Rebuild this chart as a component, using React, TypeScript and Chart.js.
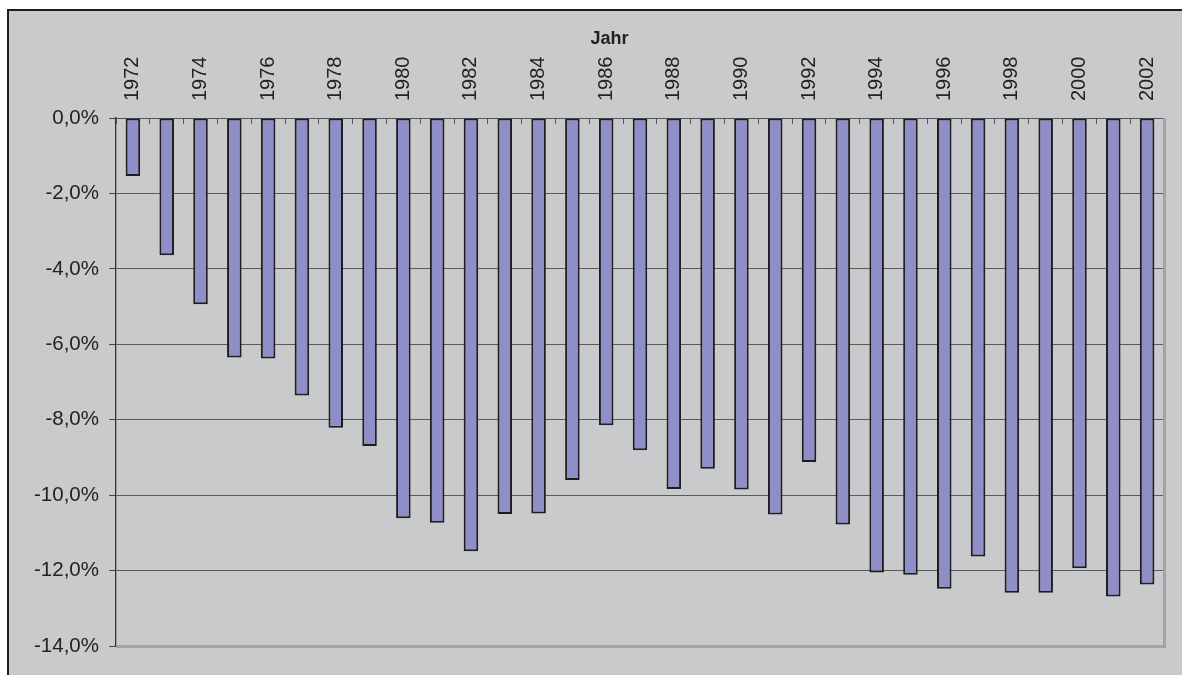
import React, { useEffect, useRef } from "react";
import { Chart, registerables } from "chart.js";

Chart.register(...registerables);

const years: string[] = [
  "1972", "1973", "1974", "1975", "1976", "1977", "1978", "1979", "1980", "1981",
  "1982", "1983", "1984", "1985", "1986", "1987", "1988", "1989", "1990", "1991",
  "1992", "1993", "1994", "1995", "1996", "1997", "1998", "1999", "2000", "2001", "2002",
];

const values: number[] = [
  -1.54, -3.64, -4.94, -6.35, -6.38, -7.36, -8.21, -8.70, -10.61, -10.73,
  -11.49, -10.50, -10.49, -9.60, -8.15, -8.81, -9.84, -9.30, -9.85, -10.51,
  -9.12, -10.78, -12.05, -12.11, -12.48, -11.63, -12.59, -12.59, -11.94, -12.69, -12.37,
];

const yMin = -14;
const yMax = 0;
const yStep = 2;
const titleText = "Jahr";

const FONT = "'Liberation Sans', Arial, sans-serif";

const backgroundPlugin = {
  id: "sheetBackground",
  beforeDraw(chart: any) {
    const { ctx, width, height } = chart;
    ctx.save();
    ctx.fillStyle = "#ffffff";
    ctx.fillRect(0, 0, width, height);
    ctx.fillStyle = "#c9cacc";
    ctx.fillRect(8, 10, width, height);
    ctx.fillStyle = "#1e1e1e";
    ctx.fillRect(7, 9, 2, height);
    ctx.fillRect(7, 9, width, 2);
    ctx.restore();
  },
};

const titleShiftPlugin = {
  id: "titleShift",
  afterLayout(chart: any) {
    const tb = chart.titleBlock;
    if (tb) {
      tb.left = 55;
    }
  },
};

const framePlugin = {
  id: "plotFrame",
  beforeDatasetsDraw(chart: any) {
    const { ctx, chartArea } = chart;
    ctx.save();
    ctx.strokeStyle = "#a3a3a5";
    ctx.lineWidth = 3;
    ctx.beginPath();
    ctx.moveTo(chartArea.right + 0.5, chartArea.top);
    ctx.lineTo(chartArea.right + 0.5, chartArea.bottom + 0.5);
    ctx.lineTo(chartArea.left, chartArea.bottom + 0.5);
    ctx.stroke();
    ctx.restore();
  },
};

export default function App() {
  const canvasRef = useRef<HTMLCanvasElement | null>(null);

  useEffect(() => {
    if (!canvasRef.current) return;
    const chart = new Chart(canvasRef.current, {
      type: "bar",
      data: {
        labels: years,
        datasets: [
          {
            data: values,
            backgroundColor: "#8e8ec8",
            borderColor: "#1f1d1f",
            borderWidth: 2,
            borderSkipped: false,
            barPercentage: 0.43,
            categoryPercentage: 1,
          },
        ],
      },
      options: {
        responsive: false,
        animation: false,
        layout: { padding: { left: 0, right: 18, top: 12, bottom: 29 } },
        plugins: {
          legend: { display: false },
          tooltip: { enabled: false },
          title: {
            display: true,
            text: titleText,
            color: "#222222",
            font: { family: FONT, size: 18, weight: "bold", lineHeight: 1.2 },
            padding: { top: 16, bottom: 0 },
          },
        },
        scales: {
          x: {
            position: "top",
            offset: true,
            grid: {
              display: true,
              drawOnChartArea: false,
              offset: true,
              tickLength: -6,
              tickColor: "#555555",
              tickWidth: 1,
            },
            border: { display: true, color: "#555555", width: 1 },
            ticks: {
              autoSkip: false,
              minRotation: 90,
              maxRotation: 90,
              padding: 23,
              labelOffset: 24,
              color: "#222222",
              font: { family: FONT, size: 20 },
              callback: (_v: any, i: number) => (i % 2 === 0 ? years[i] : ""),
            },
            afterFit: (scale: any) => {
              scale.height = 68.4;
            },
          },
          y: {
            min: yMin,
            max: yMax,
            grid: {
              color: (c: any) => (c.tick && c.tick.value === yMin ? "rgba(0,0,0,0)" : "#5a5a5a"),
              lineWidth: 1,
              tickLength: 7,
              tickColor: "#444444",
              tickWidth: 1,
            },
            border: { display: true, color: "#333333", width: 1.3 },
            ticks: {
              stepSize: yStep,
              padding: 10,
              color: "#222222",
              font: { family: FONT, size: 20.5 },
              callback: (v: any) => Number(v).toFixed(1).replace(".", ",") + "%",
            },
            afterFit: (scale: any) => {
              scale.width = 116;
            },
          },
        },
      },
      plugins: [backgroundPlugin, titleShiftPlugin, framePlugin],
    } as any);
    return () => chart.destroy();
  }, []);

  return (
    <div style={{ position: "fixed", left: 0, top: 0, width: 1182, height: 675 }}>
      <canvas ref={canvasRef} width={1182} height={675} style={{ display: "block" }} />
    </div>
  );
}
